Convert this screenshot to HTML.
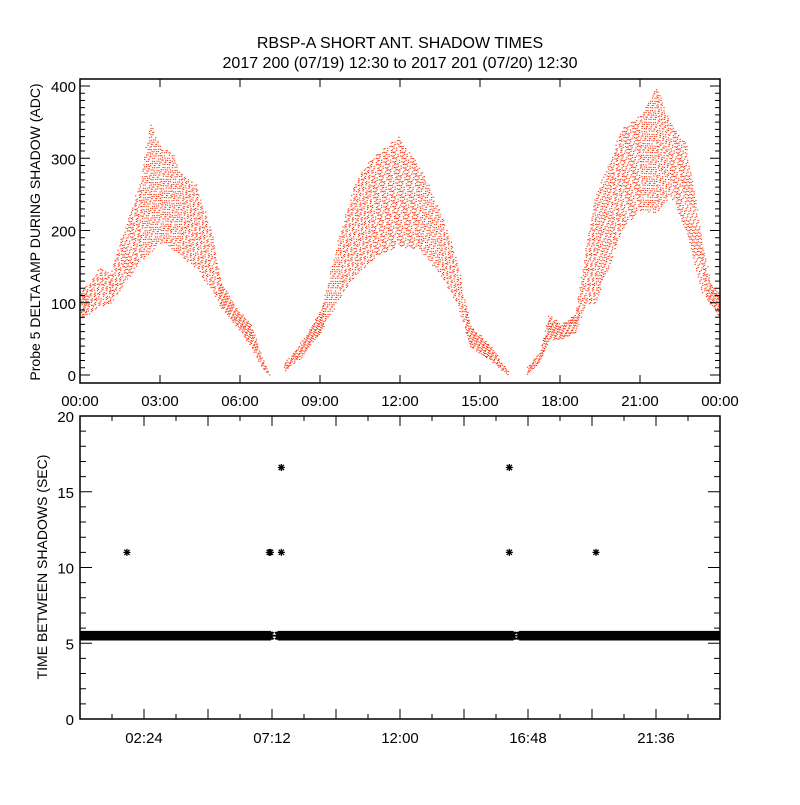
<!DOCTYPE html>
<html><head><meta charset="utf-8"><style>
html,body{margin:0;padding:0;background:#fff}
svg text{font-family:"Liberation Sans",sans-serif;fill:#000}
</style></head><body>
<svg id="c" width="800" height="800" viewBox="0 0 800 800" xmlns="http://www.w3.org/2000/svg">
<defs><clipPath id="botClip"><rect x="80" y="416" width="640" height="303"/></clipPath></defs>
<rect width="800" height="800" fill="#fff"/>
<text x="400" y="48" font-size="16" text-anchor="middle">RBSP-A SHORT ANT. SHADOW TIMES</text>
<text x="400" y="68" font-size="16" text-anchor="middle">2017 200 (07/19) 12:30 to 2017 201 (07/20) 12:30</text>
<text transform="translate(40,232) rotate(-90)" font-size="14" text-anchor="middle">Probe 5 DELTA AMP DURING SHADOW (ADC)</text>
<text transform="translate(47,567) rotate(-90)" font-size="14" text-anchor="middle">TIME BETWEEN SHADOWS (SEC)</text>
<g id="topPanel"></g>
<g id="botPanel"></g>
</svg>
<script>
// Top panel data: envelope of amplitude scatter (hours, lower ADC, upper ADC)
const envHours = [0,0.75,1.1,1.5,1.9,2.25,2.6,3.0,3.4,3.75,4.3,4.9,5.25,5.8,6.4,6.8,7.1, 7.6,8.25,9.0,9.75,10.3,10.9,11.9,12.7,13.5,14.1,14.6,15.4,16.05, 16.7,17.25,17.55,18.0,18.55,18.95,19.3,19.9,20.25,21.0,21.6,22.1,22.7,23.25,23.6,24.0];
const envLower = [80,95,100,120,140,160,170,185,175,165,150,120,95,70,40,10,0, 5,25,60,110,140,160,180,175,140,100,40,20,0, 0,20,50,50,60,100,100,160,200,230,225,250,200,120,100,80];
const envUpper = [115,150,140,190,230,270,350,315,310,280,265,200,130,95,70,25,2, 15,45,90,200,270,300,330,290,225,160,70,40,5, 10,35,85,70,85,180,250,300,340,360,400,350,320,200,130,110];
const arcBreaks = [7.1,16.05];
const topYTicks = [0,100,200,300,400];
const topXLabels = ["00:00","03:00","06:00","09:00","12:00","15:00","18:00","21:00","00:00"];
// Bottom panel data
const bandSegments = [[0,7.15],[7.45,16.25],[16.5,24]];
const bandValue = 5.5;
const outlierHours = [1.76,7.1,7.14,7.55,7.55,16.1,16.1,19.35];
const outlierValues = [11,11,11,16.6,11,16.6,11,11];
const botYTicks = [0,5,10,15,20];
const botXLabels = ["02:24","07:12","12:00","16:48","21:36"];

const NS="http://www.w3.org/2000/svg";
function mk(tag,attrs,parent){const e=document.createElementNS(NS,tag);for(const k in attrs)e.setAttribute(k,attrs[k]);parent.appendChild(e);return e;}
const topG=document.getElementById('topPanel'), botG=document.getElementById('botPanel');
const TL=80,TR=720,TT=79,TB=383;
const tx=h=>TL+h*(TR-TL)/24, ty=v=>375-v*0.7225;
const BT=416,BB=719;
const by=v=>BB-v*(BB-BT)/20;

function interp(h,arr){for(let i=0;i<envHours.length-1;i++){if(h>=envHours[i]&&h<=envHours[i+1]){const t=(h-envHours[i])/((envHours[i+1]-envHours[i])||1);return arr[i]+t*(arr[i+1]-arr[i]);}}return null;}
let d="";
for(let px=TL+1;px<TR;px+=1.5){
  const h=(px-TL)*24/(TR-TL);
  if((h>arcBreaks[0]&&h<7.6)||(h>arcBreaks[1]&&h<16.7))continue;
  const lo=interp(h,envLower),up=interp(h,envUpper);if(lo===null)continue;
  const y1=ty(up),y2=ty(lo);const span=y2-y1;
  const step=span<30?2:3.2;
  const k=Math.round(px*2);
  for(let y=y1+((k*7)%5)*step/5;y<=y2;y+=step){
    const j=((k*13+Math.round(y)*7+ (k%3)*5)%9);
    if(j===0)continue;
    d+="M"+(px+(j%3)*0.4).toFixed(1)+" "+(y+(j%2)).toFixed(1)+"h1.3v1h-1.3z";
  }
}
const sc=mk('path',{d:d,fill:'#ff2a00'},topG);



const tf=mk('rect',{x:TL,y:TT,width:TR-TL,height:TB-TT,fill:'none',stroke:'#000','stroke-width':1.5},topG);


let tk="";
for(let v=0;v<=410;v+=10){const y=ty(v);if(y<TT)break;const L=v%100===0?10:5;tk+=`M${TL} ${y}h${L}M${TR} ${y}h${-L}`;}
for(let h=0;h<=24;h+=3){const x=tx(h);tk+=`M${x} ${TB}v-8M${x} ${TT}v8`;}
const tkp=mk('path',{d:tk,stroke:'#000','stroke-width':1,fill:'none'},topG);


topYTicks.forEach(v=>{const t=mk('text',{x:TL-4,y:ty(v)+6,'font-size':15,'text-anchor':'end'},topG);t.textContent=v;

});
topXLabels.forEach((s,i)=>{const t=mk('text',{x:tx(i*3),y:406,'font-size':15,'text-anchor':'middle'},topG);t.textContent=s;

});

function star(x,y,r){return `M${x-r} ${y}h${2*r}M${x} ${y-r}v${2*r}M${x-r*0.75} ${y-r*0.75}l${1.5*r} ${1.5*r}M${x-r*0.75} ${y+r*0.75}l${1.5*r} ${-1.5*r}`;}
const bandG=mk('g',{'clip-path':'url(#botClip)'},botG);


let bd="";
bandSegments.forEach(s=>{for(let h=s[0];h<=s[1];h+=0.025){bd+=star(tx(h),by(bandValue),4.8);}});
const band=mk('path',{d:bd,stroke:'#000','stroke-width':1.8,fill:'none'},bandG);


let od="";
outlierHours.forEach((h,i)=>{od+=star(tx(h),by(outlierValues[i]),3.5);});
const out=mk('path',{d:od,stroke:'#000','stroke-width':1.3,fill:'none'},botG);



const bf=mk('rect',{x:TL,y:BT,width:TR-TL,height:BB-BT,fill:'none',stroke:'#000','stroke-width':1.5},botG);


let bk="";
for(let v=0;v<=20;v++){const y=by(v);const L=v%5===0?12:6;bk+=`M${TL} ${y}h${L}M${TR} ${y}h${-L}`;}
for(let h=0;h<=24.01;h+=1.2){const x=tx(h);const L=Math.round(h/1.2)%2===0?10:5;bk+=`M${x} ${BB}v${-L}M${x} ${BT}v${L}`;}
const bkp=mk('path',{d:bk,stroke:'#000','stroke-width':1,fill:'none'},botG);


botYTicks.forEach(v=>{const t=mk('text',{x:TL-6,y:by(v)+6,'font-size':15,'text-anchor':'end'},botG);t.textContent=v;

});
botXLabels.forEach((s,i)=>{const t=mk('text',{x:tx(2.4+i*4.8),y:743,'font-size':15,'text-anchor':'middle'},botG);t.textContent=s;

});
</script>
</body></html>
